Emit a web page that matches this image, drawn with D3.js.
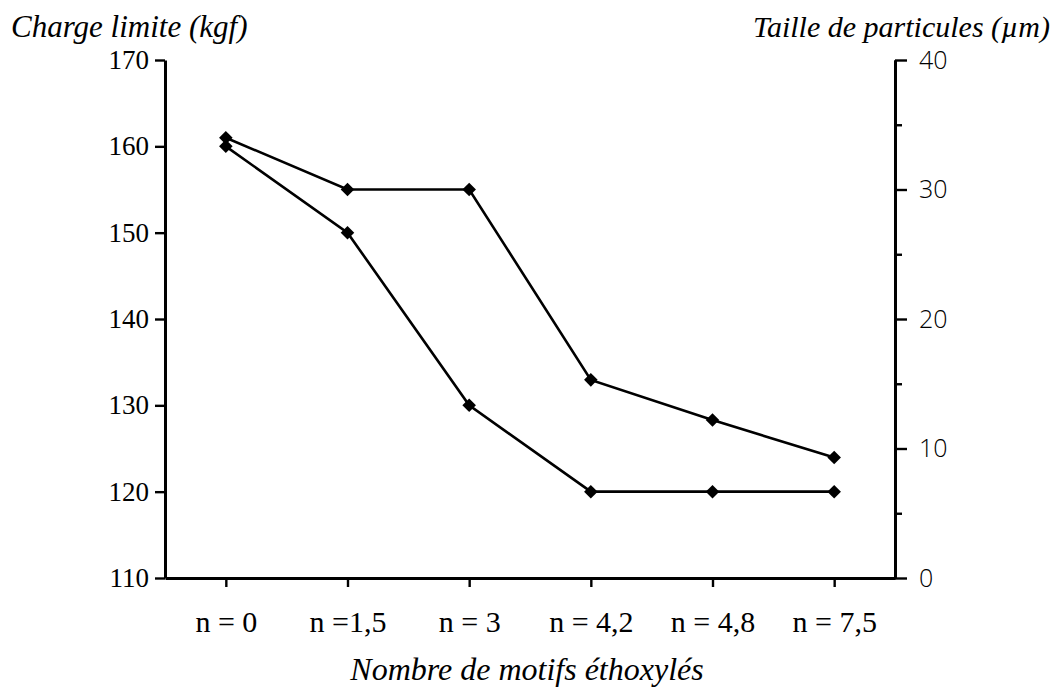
<!DOCTYPE html>
<html><head><meta charset="utf-8">
<script src="https://cdn.jsdelivr.net/npm/d3@7"></script>
<style>body{margin:0;background:#fff}svg{display:block}</style>
</head><body><svg id="c" width="1056" height="688"></svg>
<script>
const categories = ["n = 0", "n =1,5", "n = 3", "n = 4,2", "n = 4,8", "n = 7,5"];
const chargeLimite = [160, 150, 130, 120, 120, 120];
const tailleParticules = [34, 30, 30, 15.3, 12.2, 9.3];
const leftTicks = [110, 120, 130, 140, 150, 160, 170];
const rightTicks = [0, 10, 20, 30, 40];
const rightMinorTicks = [5, 15, 25, 35];
const leftTitle = "Charge limite (kgf)";
const rightTitle = "Taille de particules (\u00b5m)";
const xTitle = "Nombre de motifs \u00e9thoxyl\u00e9s";

const svg = d3.select("#c");
const L = 165, R = 895, T = 60, B = 578;
const serif = "'Liberation Serif', 'Times New Roman', serif";
const sans = "'Open Sans', 'DejaVu Sans', sans-serif";

const x = d3.scalePoint().domain(categories).range([L, R]).padding(0.5);
const yL = d3.scaleLinear().domain([110, 170]).range([B, T]);
const yR = d3.scaleLinear().domain([0, 40]).range([B, T]);

function style(g, w) {
  g.selectAll("path.domain").attr("stroke", "#000").attr("stroke-width", w);
  g.selectAll(".tick line").attr("stroke", "#000").attr("stroke-width", 2.4);
}

// x axis
const gx = svg.append("g").attr("transform", `translate(0,${B})`)
  .call(d3.axisBottom(x).tickSize(9).tickSizeOuter(0).tickPadding(24));
style(gx, 3);
gx.selectAll("text").attr("font-family", serif).attr("font-size", 30).attr("fill", "#000");

// left axis
const gl = svg.append("g").attr("transform", `translate(${L},0)`)
  .call(d3.axisLeft(yL).tickValues(leftTicks).tickSize(10).tickSizeOuter(0).tickPadding(6));
style(gl, 3);
gl.selectAll("text").attr("font-family", serif).attr("font-size", 27).attr("fill", "#000");

// right axis minor
const grm = svg.append("g").attr("transform", `translate(${R},0)`)
  .call(d3.axisRight(yR).tickValues(rightMinorTicks).tickSize(7).tickSizeOuter(0).tickFormat(""));
style(grm, 3);
// right axis major
const gr = svg.append("g").attr("transform", `translate(${R},0)`)
  .call(d3.axisRight(yR).tickValues(rightTicks).tickSize(12).tickSizeOuter(0).tickPadding(12));
style(gr, 3);
gr.selectAll("text").attr("font-family", sans).attr("font-weight", 300).attr("font-size", 25).attr("fill", "#000");

// series
const line = (ys, vals) => d3.line().x((d, i) => x(categories[i])).y(d => ys(d))(vals);
const diamond = d3.symbol().type(d3.symbolSquare).size(92);

[[tailleParticules, yR], [chargeLimite, yL]].forEach(([vals, ys]) => {
  svg.append("path").attr("d", line(ys, vals)).attr("fill", "none")
    .attr("stroke", "#000").attr("stroke-width", 2.6);
  svg.selectAll(null).data(vals).enter().append("path")
    .attr("d", diamond)
    .attr("transform", (d, i) => `translate(${x(categories[i])},${ys(d)}) rotate(45)`)
    .attr("fill", "#000");
});

// titles
svg.append("text").attr("x", 11).attr("y", 37).attr("font-family", serif)
  .attr("font-style", "italic").attr("font-size", 31).text(leftTitle);
svg.append("text").attr("x", 1050).attr("y", 37).attr("text-anchor", "end").attr("font-family", serif)
  .attr("font-style", "italic").attr("font-size", 30).text(rightTitle);
svg.append("text").attr("x", 527).attr("y", 680).attr("text-anchor", "middle").attr("font-family", serif)
  .attr("font-style", "italic").attr("font-size", 32).text(xTitle);
</script></body></html>
